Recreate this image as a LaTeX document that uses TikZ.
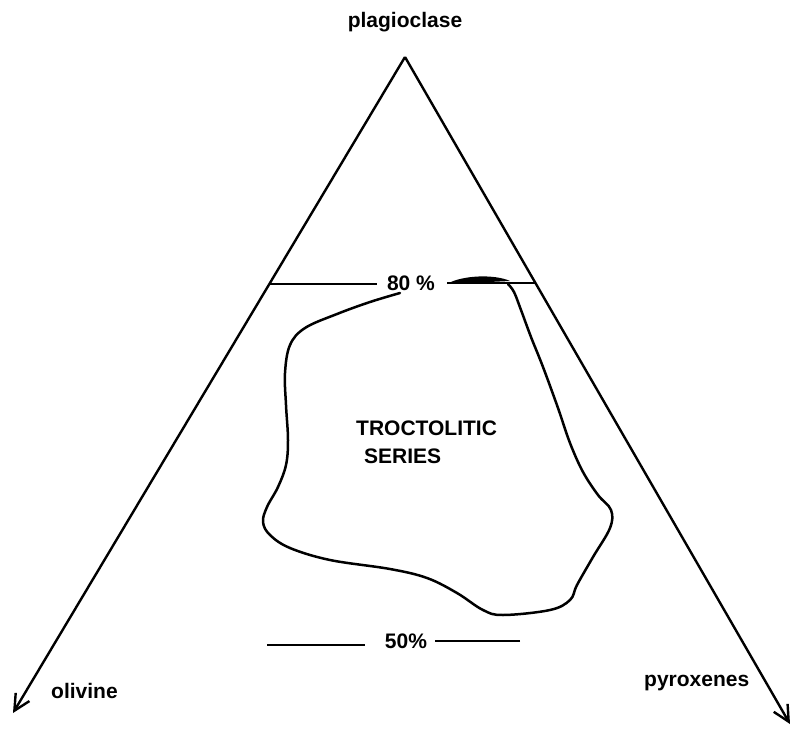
\documentclass[tikz,border=0pt]{standalone}
\usepackage{fontspec}
\setmainfont{Liberation Sans}
\usetikzlibrary{arrows.meta, calc, positioning}

\tikzset{
  mineral/.style={font=\fontsize{21}{25}\selectfont\bfseries, inner sep=1pt},
  pct/.style={font=\fontsize{21}{25}\selectfont\bfseries, inner sep=0pt},
  side/.style={line width=2.4pt, -{Straight Barb[length=16pt, width=16pt, line width=2.4pt]}},
  tieline/.style={line width=2.4pt},
  field/.style={line width=2.5pt, line join=round, line cap=round}
}

\begin{document}
\begin{tikzpicture}[x=1pt, y=-1pt]
            \useasboundingbox (0,0) rectangle (790,731);
            % Corners of the triangle
            \coordinate (apex) at (405,57);
            \coordinate (olv) at (13,713);
            \coordinate (pyx) at (790,724);
            \draw[side] (apex) -- (olv);
            \draw[side] (apex) -- (pyx);
            % Corner labels
            \node[mineral, anchor=base] (plag) at (405,27) {plagioclase};
            \node[mineral, anchor=base west] (olivine) at (50,698) {olivine};
            \node[mineral, anchor=base west] (pyroxenes) at (643,686) {pyroxenes};
            % 80 % line
            \node[pct, anchor=base] (p80) at (411,290) {80 \%};
            \coordinate (l80) at ($(apex)!0.346!(olv)$);
            \coordinate (r80) at ($(apex)!0.339!(pyx)$);
            \draw[tieline] (l80) -- (l80 -| 377,0);
            \draw[tieline] (r80) -- (r80 -| 447,0);
            % 50 % line
            \node[pct, anchor=base] (p50) at (406,648) {50\%};
            \coordinate (a50) at (267,645);
            \coordinate (b50) at (520,641);
            \draw[tieline] (a50) -- ++(98,0);
            \draw[tieline] (b50) -- ++(-85,0);
            % Field of the series
            \draw[field] plot[smooth, tension=0.6] coordinates {
               (400,293) (370,302) (337,314) (305,328) (290,345) (285,373)
               (286,405) (288,440) (286,465) (278,487) (267,507) (263,522)
               (270,535) (290,548) (330,560) (390,569) (427,578) (457,593)
               (483,610) (503,615) (550,610) (570,600) (577,585) (593,557)
               (610,528) (611,510) (598,495) (583,472) (570,443) (558,408)
               (543,367) (531,337) (521,310) (514,292) (508,284)};
            \fill (447,284) .. controls (462,275) and (495,274) .. (510,281)
               .. controls (490,282) and (465,283) .. cycle;
            \node[mineral, anchor=base west] (troc) at (355,435) {TROCTOLITIC};
            \node[mineral, anchor=base west] (series) at (363,463) {SERIES};
         \end{tikzpicture}
\end{document}
